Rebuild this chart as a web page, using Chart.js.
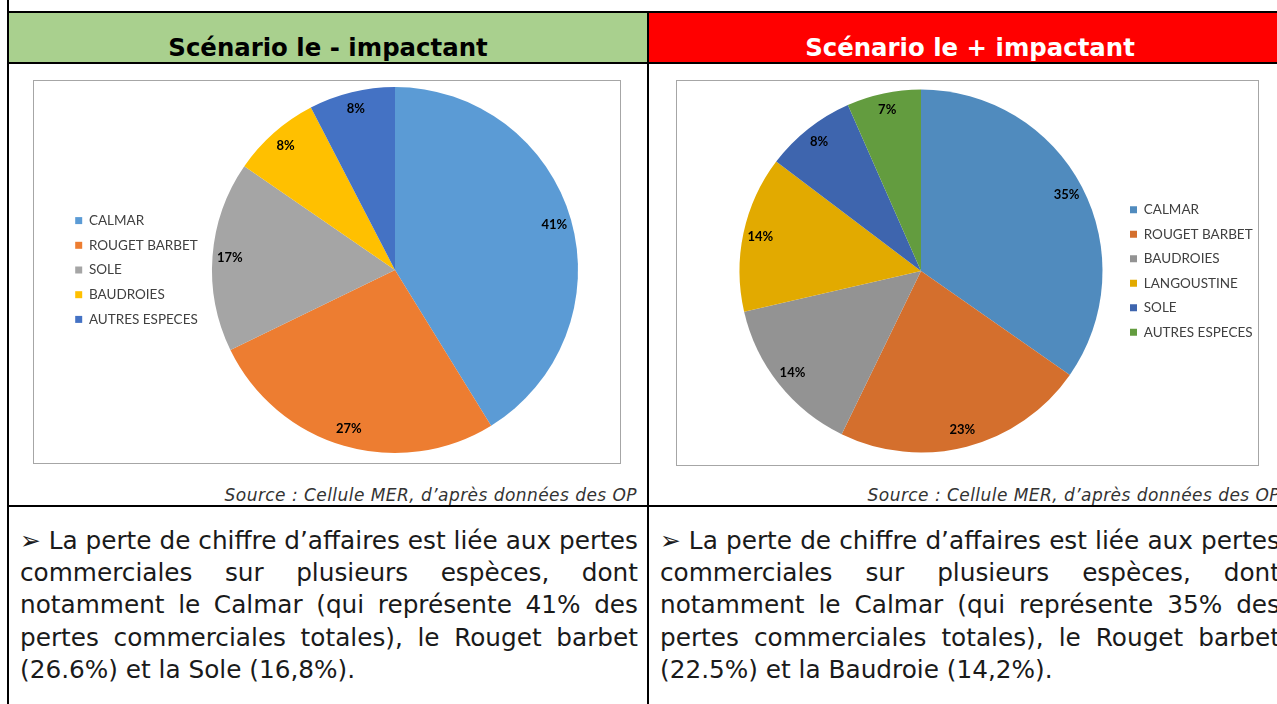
<!DOCTYPE html>
<html>
<head>
<meta charset="utf-8">
<script src="https://cdn.jsdelivr.net/npm/chart.js@4.4.1/dist/chart.umd.min.js"></script>
<style>
  html, body { margin: 0; padding: 0; background: #fff; }
  body { width: 1277px; height: 704px; overflow: hidden; position: relative; font-family: "DejaVu Sans", sans-serif; }
  .line { position: absolute; background: #000; }
  .head { position: absolute; top: 13px; height: 49px; font-weight: bold; font-size: 24.4px; line-height: 49px; text-align: center; padding-top: 10px; box-sizing: border-box; }
  .box { position: absolute; border: 1px solid #a6a6a6; }
  .src { position: absolute; font-style: italic; font-size: 17px; letter-spacing: 0.45px; color: #333; text-align: right; line-height: 18px; }
  .txt { position: absolute; font-size: 21px; line-height: 32.2px; color: #1a1a1a; }
  .txt span { display: block; text-align: justify; text-align-last: justify; white-space: nowrap; }
  .txt span.last { text-align-last: left; }
</style>
</head>
<body>
  <div class="line" style="left:7px;top:0;width:2px;height:704px"></div>
  <div class="line" style="left:7px;top:11px;width:1270px;height:2px"></div>
  <div class="head" style="left:9px;width:638px;background:#a9d08e;color:#000">Scénario le - impactant</div>
  <div class="head" style="left:649px;width:642px;background:#ff0000;color:#fff">Scénario le + impactant</div>
  <div class="line" style="left:7px;top:62px;width:1270px;height:2px"></div>
  <div class="line" style="left:647px;top:13px;width:2px;height:691px"></div>

  <div class="box" style="left:33px;top:80px;width:586px;height:382px"><canvas id="pieA"></canvas></div>
  <div class="box" style="left:676px;top:80px;width:581px;height:384px"><canvas id="pieB"></canvas></div>

  <div class="src" style="left:9px;top:486px;width:628px">Source : Cellule MER, d’après données des OP</div>
  <div class="src" style="left:649px;top:486px;width:631px">Source : Cellule MER, d’après données des OP</div>
  <div class="line" style="left:7px;top:505px;width:1270px;height:2px"></div>

  <div class="txt" style="left:20px;top:525px;width:618px">
    <span>➢ La perte de chiffre d’affaires est liée aux pertes</span>
    <span>commerciales sur plusieurs espèces, dont</span>
    <span>notamment le Calmar (qui représente 41% des</span>
    <span>pertes commerciales totales), le Rouget barbet</span>
    <span class="last">(26.6%) et la Sole (16,8%).</span>
  </div>
  <div class="txt" style="left:660px;top:525px;width:620px">
    <span>➢ La perte de chiffre d’affaires est liée aux pertes</span>
    <span>commerciales sur plusieurs espèces, dont</span>
    <span>notamment le Calmar (qui représente 35% des</span>
    <span>pertes commerciales totales), le Rouget barbet</span>
    <span class="last">(22.5%) et la Baudroie (14,2%).</span>
  </div>

<script>
// scenario le - impactant
const CATS_A = ["CALMAR", "ROUGET BARBET", "SOLE", "BAUDROIES", "AUTRES ESPECES"];
const VALS_A = [41.2, 26.6, 16.8, 7.8, 7.6];
const COLORS_A = ["#5b9bd5", "#ed7d31", "#a5a5a5", "#ffc000", "#4472c4"];

// scenario le + impactant
const CATS_B = ["CALMAR", "ROUGET BARBET", "BAUDROIES", "LANGOUSTINE", "SOLE", "AUTRES ESPECES"];
const VALS_B = [34.7, 22.5, 14.2, 13.9, 8.1, 6.6];
const COLORS_B = ["#508bbe", "#d46f2d", "#939393", "#e2aa00", "#3e65ae", "#639c3f"];

/* grow the paragraph font until the widest line just fits its column */
document.querySelectorAll(".txt").forEach(block => {
  const w = block.clientWidth;
  let size = 26;
  block.style.fontSize = size + "px";
  const tooWide = () => [...block.children].some(s => {
    s.style.display = "inline-block";
    const sw = s.getBoundingClientRect().width;
    s.style.display = "";
    return sw > w;
  });
  while (tooWide() && size > 12) {
    size -= 0.25;
    block.style.fontSize = size + "px";
  }
});

/* percent labels near the outer edge of each slice */
const pctLabels = {
  id: "pctLabels",
  afterDatasetsDraw(chart) {
    const ctx = chart.ctx;
    const vals = chart.data.datasets[0].data;
    const total = vals.reduce((a, b) => a + b, 0);
    chart.getDatasetMeta(0).data.forEach((arc, i) => {
      const p = arc.getProps(["x", "y", "startAngle", "endAngle", "outerRadius"], true);
      const mid = (p.startAngle + p.endAngle) / 2;
      const r = p.outerRadius * 0.905;
      ctx.save();
      ctx.font = "bold 13px Lato";
      ctx.fillStyle = "#000";
      ctx.textAlign = "center";
      ctx.textBaseline = "middle";
      ctx.fillText(Math.round(vals[i] / total * 100) + "%", p.x + Math.cos(mid) * r, p.y + Math.sin(mid) * r);
      ctx.restore();
    });
  }
};

function makePie(id, cats, vals, colors, legendPos, padding, spacing) {
  return new Chart(document.getElementById(id), {
    type: "pie",
    data: {
      labels: cats,
      datasets: [{ data: vals, backgroundColor: colors, borderWidth: 0 }]
    },
    options: {
      responsive: true,
      maintainAspectRatio: false,
      animation: false,
      layout: { padding },
      plugins: {
        legend: {
          position: legendPos,
          maxWidth: 138,
          labels: {
            boxWidth: 7,
            boxHeight: 7,
            padding: spacing,
            color: "#404040",
            font: { family: "Lato", size: 13.5 }
          }
        },
        tooltip: { enabled: false }
      }
    },
    plugins: [pctLabels]
  });
}

makePie("pieA", CATS_A, VALS_A, COLORS_A, "left", { left: 30, right: 32, top: 6, bottom: 10 }, 11.2);
makePie("pieB", CATS_B, VALS_B, COLORS_B, "right", { left: 46, right: 1, top: 8.5, bottom: 12.5 }, 11);
</script>
</body>
</html>
